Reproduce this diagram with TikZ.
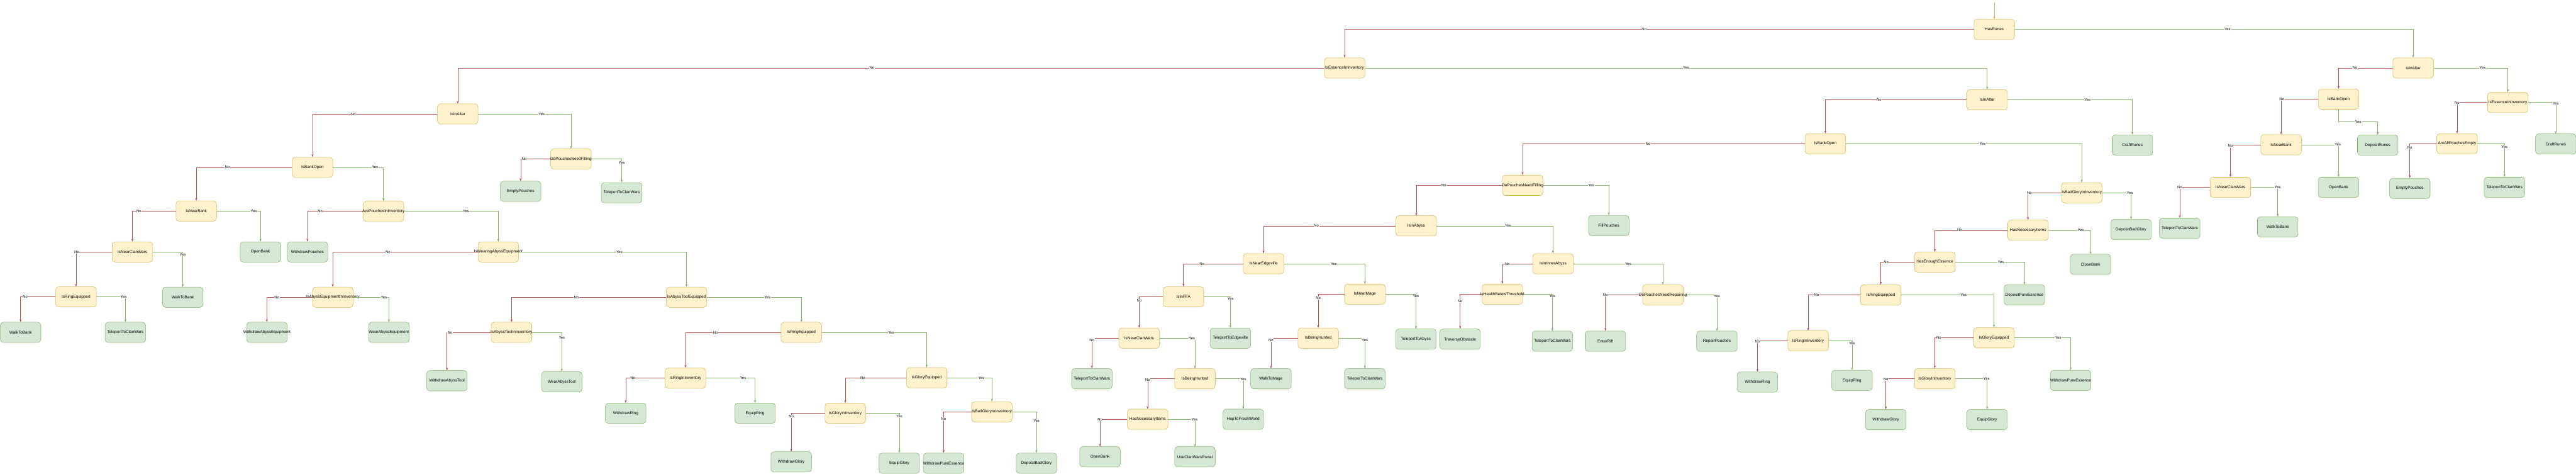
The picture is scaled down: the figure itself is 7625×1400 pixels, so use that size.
\documentclass[tikz,border=0pt]{standalone}
\usepackage{fontspec}
\setmainfont{Liberation Sans}
\usetikzlibrary{arrows.meta}
\definecolor{yfill}{HTML}{FFF2CC}
\definecolor{ystroke}{HTML}{D6B656}
\definecolor{gfill}{HTML}{D5E8D4}
\definecolor{gstroke}{HTML}{82B366}
\definecolor{redc}{HTML}{B85450}
\definecolor{greenc}{HTML}{82B366}
\newcommand{\ct}[1]{\makebox[0pt]{#1}}
\tikzset{
  dec/.style={draw=ystroke, fill=yfill, rounded corners=9pt, minimum width=120pt, minimum height=60pt, inner sep=0pt, line width=1pt, font=\fontsize{12pt}{14pt}\selectfont},
  act/.style={draw=gstroke, fill=gfill, rounded corners=9pt, minimum width=120pt, minimum height=60pt, inner sep=0pt, line width=1pt, font=\fontsize{12pt}{14pt}\selectfont},
  noe/.style={draw=redc, line width=1pt, -{Stealth[length=8pt,width=6pt,inset=2pt]}},
  yese/.style={draw=greenc, line width=1pt, -{Stealth[length=8pt,width=6pt,inset=2pt]}},
  starte/.style={draw=ystroke, line width=1pt, -{Stealth[length=8pt,width=6pt,inset=2pt]}},
  lbl/.style={fill=white, inner sep=1pt, font=\fontsize{11pt}{13pt}\selectfont, text=black}
}
\begin{document}
\begin{tikzpicture}[x=1pt,y=-1pt]
\useasboundingbox[fill=white] (0,0) rectangle (7625,1400);
% decision nodes
\node[dec] (hr)  at (5903,87)  {\ct{HasRunes}};
\node[dec] (ee1) at (3980,201) {\ct{IsEssenceInInventory}};
\node[dec] (ia1) at (1355,337) {\ct{IsInAltar}};
\node[dec] (bo1) at (925,495)  {\ct{IsBankOpen}};
\node[dec] (nb1) at (581,624)  {\ct{IsNearBank}};
\node[dec] (pi1) at (1135,625) {\ct{ArePouchesInInventory}};
\node[dec] (pf1) at (1690,470) {\ct{DoPouchesNeedFilling}};
\node[dec] (nc1) at (392,745)  {\ct{IsNearClanWars}};
\node[dec] (re1) at (225,878)  {\ct{IsRingEquipped}};
\node[dec] (wae) at (1475,745) {\ct{IsWearingAbyssEquipment}};
\node[dec] (aei) at (985,879)  {\ct{IsAbyssEquipmentInInventory}};
\node[dec] (ate) at (2032,879) {\ct{IsAbyssToolEquipped}};
\node[dec] (ati) at (1514,983) {\ct{IsAbyssToolInInventory}};
\node[dec] (re2) at (2372,983) {\ct{IsRingEquipped}};
\node[dec] (ri2) at (2029,1118) {\ct{IsRingInInventory}};
\node[dec] (ge2) at (2743,1117) {\ct{IsGloryEquipped}};
\node[dec] (gi2) at (2502,1222) {\ct{IsGloryInInventory}};
\node[dec] (bg1) at (2936,1218) {\ct{IsBadGloryInInventory}};
\node[dec] (ia2) at (5882,295) {\ct{IsInAltar}};
\node[dec] (bo2) at (5403,425) {\ct{IsBankOpen}};
\node[dec] (pf2) at (4507,548) {\ct{DoPouchesNeedFilling}};
\node[dec] (iab) at (4192,668) {\ct{IsInAbyss}};
\node[dec] (ned) at (3740,780) {\ct{IsNearEdgeville}};
\node[dec] (ffa) at (3503,878) {\ct{IsInFFA}};
\node[dec] (nc2) at (3372,1000) {\ct{IsNearClanWars}};
\node[dec] (bh2) at (3537,1120) {\ct{IsBeingHunted}};
\node[dec] (hn1) at (3397,1240) {\ct{HasNecessaryItems}};
\node[dec] (nm)  at (4040,870) {\ct{IsNearMage}};
\node[dec] (bh3) at (3902,1000) {\ct{IsBeingHunted}};
\node[dec] (iia) at (4597,780) {\ct{IsInInnerAbyss}};
\node[dec] (hbt) at (4447,870) {\ct{IsHealthBelowThreshold}};
\node[dec] (pnr) at (4922,872) {\ct{DoPouchesNeedRepairing}};
\node[dec] (bg2) at (6162,570) {\ct{IsBadGloryInInventory}};
\node[dec] (hn2) at (6003,681) {\ct{HasNecessaryItems}};
\node[dec] (hee) at (5727,775) {\ct{HasEnoughEssence}};
\node[dec] (re3) at (5567,872) {\ct{IsRingEquipped}};
\node[dec] (ri3) at (5352,1008) {\ct{IsRingInInventory}};
\node[dec] (ge3) at (5902,999) {\ct{IsGloryEquipped}};
\node[dec] (gi3) at (5727,1120) {\ct{IsGloryInInventory}};
\node[dec] (ia3) at (7143,201) {\ct{IsInAltar}};
\node[dec] (bo3) at (6922,293) {\ct{IsBankOpen}};
\node[dec] (nb3) at (6752,428) {\ct{IsNearBank}};
\node[dec] (nc3) at (6602,554) {\ct{IsNearClanWars}};
\node[dec] (ee3) at (7423,303) {\ct{IsEssenceInInventory}};
\node[dec] (ape) at (7273,425) {\ct{AreAllPouchesEmpty}};
% action nodes
\node[act] (ep1) at (1541,566) {\ct{EmptyPouches}};
\node[act] (tc1) at (1840,570) {\ct{TeleportToClanWars}};
\node[act] (ob1) at (771,745) {\ct{OpenBank}};
\node[act] (wp)  at (910,745) {\ct{WithdrawPouches}};
\node[act] (wb1) at (541,879) {\ct{WalkToBank}};
\node[act] (wb1b) at (61,983) {\ct{WalkToBank}};
\node[act] (tc1b) at (371,983) {\ct{TeleportToClanWars}};
\node[act] (wdae) at (790,983) {\ct{WithdrawAbyssEquipment}};
\node[act] (wrae) at (1151,983) {\ct{WearAbyssEquipment}};
\node[act] (wat) at (1323,1126) {\ct{WithdrawAbyssTool}};
\node[act] (wet) at (1663,1129) {\ct{WearAbyssTool}};
\node[act] (wr2) at (1852,1222) {\ct{WithdrawRing}};
\node[act] (er2) at (2235,1222) {\ct{EquipRing}};
\node[act] (wg2) at (2342,1366) {\ct{WithdrawGlory}};
\node[act] (eg2) at (2662,1370) {\ct{EquipGlory}};
\node[act] (wpe1) at (2793,1370) {\ct{WithdrawPureEssence}};
\node[act] (dbg1) at (3068,1370) {\ct{DepositBadGlory}};
\node[act] (tte) at (3642,1000) {\ct{TeleportToEdgeville}};
\node[act] (tc2) at (3232,1120) {\ct{TeleportToClanWars}};
\node[act] (hfw) at (3680,1240) {\ct{HopToFreshWorld}};
\node[act] (ob2) at (3256,1351) {\ct{OpenBank}};
\node[act] (ucp) at (3537,1351) {\ct{UseClanWarsPortal}};
\node[act] (wtm) at (3762,1120) {\ct{WalkToMage}};
\node[act] (tpc) at (4040,1120) {\ct{TeleporToClanWars}};
\node[act] (tta) at (4191,1003) {\ct{TeleportToAbyss}};
\node[act] (tro) at (4322,1003) {\ct{TraverseObstacle}};
\node[act] (tc4) at (4595,1009) {\ct{TeleportToClanWars}};
\node[act] (er)  at (4752,1009) {\ct{EnterRift}};
\node[act] (rp)  at (5082,1009) {\ct{RepairPouches}};
\node[act] (fp)  at (4762,667) {\ct{FillPouches}};
\node[act] (cr2) at (6312,429) {\ct{CraftRunes}};
\node[act] (dbg2) at (6308,679) {\ct{DepositBadGlory}};
\node[act] (cb)  at (6188,782) {\ct{CloseBank}};
\node[act] (dpe) at (5992,872) {\ct{DepositPureEssence}};
\node[act] (wr3) at (5202,1130) {\ct{WithdrawRing}};
\node[act] (er3) at (5482,1125) {\ct{EquipRing}};
\node[act] (wpe3) at (6129,1125) {\ct{WithdrawPureEssence}};
\node[act] (wg3) at (5582,1241) {\ct{WithdrawGlory}};
\node[act] (eg3) at (5882,1241) {\ct{EquipGlory}};
\node[act] (dr3) at (7038,429) {\ct{DepositRunes}};
\node[act] (ob3) at (6922,554) {\ct{OpenBank}};
\node[act] (tc3) at (6452,675) {\ct{TeleportToClanWars}};
\node[act] (wb3) at (6742,671) {\ct{WalkToBank}};
\node[act] (ep3) at (7133,557) {\ct{EmptyPouches}};
\node[act] (tc3b) at (7413,554) {\ct{TeleportToClanWars}};
\node[act] (cr3) at (7565,426) {\ct{CraftRunes}};
% start
\coordinate (st) at (5903,7);
\draw[starte] (st) -- (hr.north);
% edges
\draw[noe]  (hr.west)  -| node[lbl,pos=0.262]{No}  (ee1.north);
\draw[yese] (hr.east)  -| node[lbl,pos=0.267]{Yes} (ia3.north);
\draw[noe]  (ee1.west) -| node[lbl,pos=0.261]{No}  (ia1.north);
\draw[yese] (ee1.east) -| node[lbl,pos=0.258]{Yes} (ia2.north);
\draw[noe]  (ia1.west) -| node[lbl,pos=0.336]{No}  (bo1.north);
\draw[yese] (ia1.east) -| node[lbl,pos=0.342]{Yes} (pf1.north);
\draw[noe]  (bo1.west) -| node[lbl,pos=0.338]{No}  (nb1.north);
\draw[yese] (bo1.east) -| node[lbl,pos=0.417]{Yes} (pi1.north);
\draw[noe]  (pf1.west) -| node[lbl,pos=0.438]{No}  (ep1.north);
\draw[yese] (pf1.east) -| node[lbl,pos=0.586]{Yes} (tc1.north);
\draw[noe]  (nb1.west) -| node[lbl,pos=0.426]{No}  (nc1.north);
\draw[yese] (nb1.east) -| node[lbl,pos=0.423]{Yes} (ob1.north);
\draw[noe]  (pi1.west) -| node[lbl,pos=0.385]{No}  (wp.north);
\draw[yese] (pi1.east) -| node[lbl,pos=0.329]{Yes} (wae.north);
\draw[noe]  (nc1.west) -| node[lbl,pos=0.49]{No}   (re1.north);
\draw[yese] (nc1.east) -| node[lbl,pos=0.54]{Yes}  (wb1.north);
\draw[noe]  (re1.west) -| node[lbl,pos=0.433]{No}  (wb1b.north);
\draw[yese] (re1.east) -| node[lbl,pos=0.47]{Yes}  (tc1b.north);
\draw[noe]  (wae.west) -| node[lbl,pos=0.31]{No}   (aei.north);
\draw[yese] (wae.east) -| node[lbl,pos=0.30]{Yes}  (ate.north);
\draw[noe]  (aei.west) -| node[lbl,pos=0.39]{No}   (wdae.north);
\draw[yese] (aei.east) -| node[lbl,pos=0.43]{Yes}  (wrae.north);
\draw[noe]  (ate.west) -| node[lbl,pos=0.29]{No}   (ati.north);
\draw[yese] (ate.east) -| node[lbl,pos=0.32]{Yes}  (re2.north);
\draw[noe]  (ati.west) -| node[lbl,pos=0.466]{No}  (wat.north);
\draw[yese] (ati.east) -| node[lbl,pos=0.565]{Yes} (wet.north);
\draw[noe]  (re2.west) -| node[lbl,pos=0.343]{No}  (ri2.north);
\draw[yese] (re2.east) -| node[lbl,pos=0.331]{Yes} (ge2.north);
\draw[noe]  (ri2.west) -| node[lbl,pos=0.41]{No}   (wr2.north);
\draw[yese] (ri2.east) -| node[lbl,pos=0.377]{Yes} (er2.north);
\draw[noe]  (ge2.west) -| node[lbl,pos=0.356]{No}  (gi2.north);
\draw[yese] (ge2.east) -| node[lbl,pos=0.383]{Yes} (bg1.north);
\draw[noe]  (gi2.west) -| node[lbl,pos=0.54]{No}   (wg2.north);
\draw[yese] (gi2.east) -| node[lbl,pos=0.54]{Yes}  (eg2.north);
\draw[noe]  (bg1.west) -| node[lbl,pos=0.586]{No}  (wpe1.north);
\draw[yese] (bg1.east) -| node[lbl,pos=0.607]{Yes} (dbg1.north);
\draw[noe]  (ia2.west) -| node[lbl,pos=0.31]{No}   (bo2.north);
\draw[yese] (ia2.east) -| node[lbl,pos=0.32]{Yes}  (cr2.north);
\draw[noe]  (bo2.west) -| node[lbl,pos=0.278]{No}  (pf2.north);
\draw[yese] (bo2.east) -| node[lbl,pos=0.29]{Yes}  (bg2.north);
\draw[noe]  (pf2.west) -| node[lbl,pos=0.34]{No}   (iab.north);
\draw[yese] (pf2.east) -| node[lbl,pos=0.367]{Yes} (fp.north);
\draw[noe]  (iab.west) -| node[lbl,pos=0.30]{No}   (ned.north);
\draw[yese] (iab.east) -| node[lbl,pos=0.307]{Yes} (iia.north);
\draw[noe]  (ned.west) -| node[lbl,pos=0.345]{No}  (ffa.north);
\draw[yese] (ned.east) -| node[lbl,pos=0.308]{Yes} (nm.north);
\draw[noe]  (ffa.west) -| node[lbl,pos=0.56]{No}   (nc2.north);
\draw[yese] (ffa.east) -| node[lbl,pos=0.533]{Yes} (tte.north);
\draw[noe]  (nc2.west) -| node[lbl,pos=0.53]{No}   (tc2.north);
\draw[yese] (nc2.east) -| node[lbl,pos=0.457]{Yes} (bh2.north);
\draw[noe]  (bh2.west) -| node[lbl,pos=0.52]{No}   (hn1.north);
\draw[yese] (bh2.east) -| node[lbl,pos=0.51]{Yes}  (hfw.north);
\draw[noe]  (hn1.west) -| node[lbl,pos=0.5]{No}    (ob2.north);
\draw[yese] (hn1.east) -| node[lbl,pos=0.495]{Yes} (ucp.north);
\draw[noe]  (nm.west)  -| node[lbl,pos=0.555]{No}  (bh3.north);
\draw[yese] (nm.east)  -| node[lbl,pos=0.53]{Yes}  (tta.north);
\draw[noe]  (bh3.west) -| node[lbl,pos=0.53]{No}   (wtm.north);
\draw[yese] (bh3.east) -| node[lbl,pos=0.53]{Yes}  (tpc.north);
\draw[noe]  (iia.west) -| node[lbl,pos=0.417]{No}  (hbt.north);
\draw[yese] (iia.east) -| node[lbl,pos=0.306]{Yes} (pnr.north);
\draw[noe]  (hbt.west) -| node[lbl,pos=0.60]{No}   (tro.north);
\draw[yese] (hbt.east) -| node[lbl,pos=0.53]{Yes}  (tc4.north);
\draw[noe]  (pnr.west) -| node[lbl,pos=0.5]{No}    (er.north);
\draw[yese] (pnr.east) -| node[lbl,pos=0.52]{Yes}  (rp.north);
\draw[noe]  (bg2.west) -| node[lbl,pos=0.48]{No}   (hn2.north);
\draw[yese] (bg2.east) -| node[lbl,pos=0.48]{Yes}  (dbg2.north);
\draw[noe]  (hn2.west) -| node[lbl,pos=0.33]{No}   (hee.north);
\draw[yese] (hn2.east) -| node[lbl,pos=0.384]{Yes} (cb.north);
\draw[noe]  (hee.west) -| node[lbl,pos=0.42]{No}   (re3.north);
\draw[yese] (hee.east) -| node[lbl,pos=0.33]{Yes}  (dpe.north);
\draw[noe]  (re3.west) -| node[lbl,pos=0.42]{No}   (ri3.north);
\draw[yese] (re3.east) -| node[lbl,pos=0.336]{Yes} (ge3.north);
\draw[noe]  (ri3.west) -| node[lbl,pos=0.51]{No}   (wr3.north);
\draw[yese] (ri3.east) -| node[lbl,pos=0.546]{Yes} (er3.north);
\draw[noe]  (ge3.west) -| node[lbl,pos=0.448]{No}  (gi3.north);
\draw[yese] (ge3.east) -| node[lbl,pos=0.39]{Yes}  (wpe3.north);
\draw[noe]  (gi3.west) -| node[lbl,pos=0.51]{No}   (wg3.north);
\draw[yese] (gi3.east) -| node[lbl,pos=0.49]{Yes}  (eg3.north);
\draw[noe]  (ia3.west) -| node[lbl,pos=0.348]{No}  (bo3.north);
\draw[yese] (ia3.east) -| node[lbl,pos=0.33]{Yes}  (ee3.north);
\draw[noe]  (bo3.west) -| node[lbl,pos=0.49]{No}   (nb3.north);
\draw[yese] (bo3.south) -- ++(0,37) -| node[lbl,pos=0.25]{Yes} (dr3.north);
\draw[noe]  (nb3.west) -| node[lbl,pos=0.52]{No}   (nc3.north);
\draw[yese] (nb3.east) -| node[lbl,pos=0.49]{Yes}  (ob3.north);
\draw[noe]  (nc3.west) -| node[lbl,pos=0.5]{No}    (tc3.north);
\draw[yese] (nc3.east) -| node[lbl,pos=0.5]{Yes}   (wb3.north);
\draw[noe]  (ee3.west) -| node[lbl,pos=0.51]{No}   (ape.north);
\draw[yese] (ee3.east) -| node[lbl,pos=0.52]{Yes}  (cr3.north);
\draw[noe]  (ape.west) -| node[lbl,pos=0.56]{No}   (ep3.north);
\draw[yese] (ape.east) -| node[lbl,pos=0.55]{Yes}  (tc3b.north);
\end{tikzpicture}
\end{document}
